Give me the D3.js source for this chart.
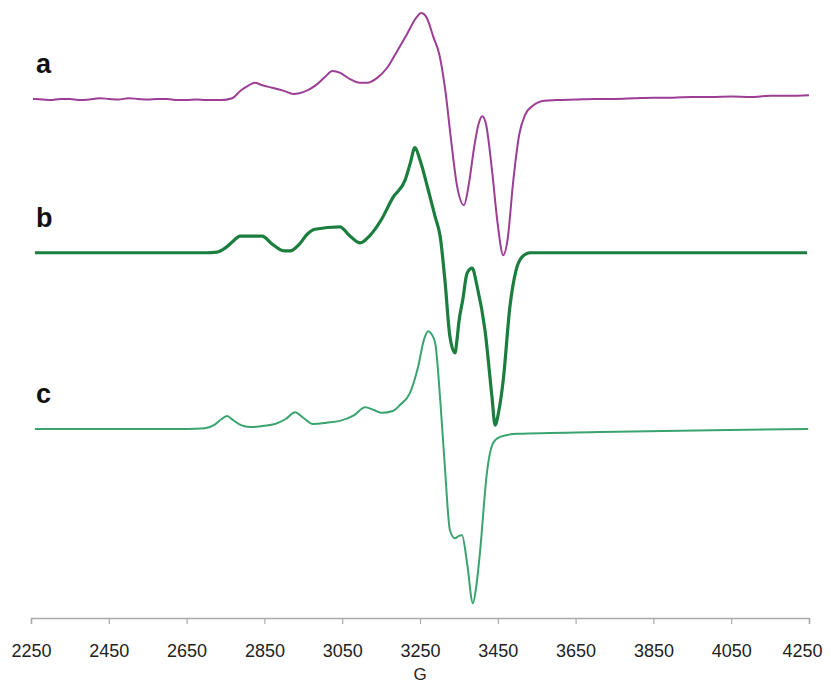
<!DOCTYPE html>
<html>
<head>
<meta charset="utf-8">
<script src="https://cdn.jsdelivr.net/npm/d3@7"></script>
<style>
  body { margin: 0; background: #fff; }
  svg { display: block; }
</style>
</head>
<body>
<div id="chart"></div>
<script>
// field in gauss
const xTicks = [2250, 2450, 2650, 2850, 3050, 3250, 3450, 3650, 3850, 4050, 4250];

// stacked spectra, arbitrary intensity units (offsets included)
const traceA = [
  [2255, 84.0], [2280, 83.9], [2300, 83.8], [2325, 84.0], [2350, 84.0], [2375, 83.8],
  [2400, 83.9], [2425, 84.1], [2450, 84.0], [2475, 83.9], [2500, 84.1], [2525, 84.0],
  [2550, 83.9], [2575, 84.0], [2600, 84.0], [2625, 83.8], [2650, 83.8], [2675, 83.9],
  [2700, 83.8], [2740, 83.8], [2767, 84.1],
  [2790, 85.4], [2810, 86.2], [2825, 86.6], [2845, 86.2], [2870, 85.8], [2900, 85.3],
  [2925, 84.8], [2950, 85.1], [2980, 86.1], [3005, 87.5], [3025, 88.5], [3045, 88.2],
  [3070, 87.2], [3095, 86.6], [3115, 86.6], [3140, 87.4], [3165, 89.0], [3190, 91.6],
  [3215, 94.3], [3240, 97.1], [3253, 97.9], [3265, 97.4], [3285, 93.9], [3300, 91.1],
  [3315, 85.4], [3330, 77.3], [3345, 70.0], [3363, 66.8], [3375, 70.0], [3390, 76.5],
  [3400, 79.8], [3410, 81.2], [3420, 79.8], [3435, 72.5], [3450, 63.6], [3464, 58.7],
  [3475, 61.2], [3490, 70.9], [3505, 78.2], [3520, 81.4], [3540, 82.9], [3570, 83.7],
  [3600, 83.8], [3650, 83.9], [3700, 84.0], [3750, 84.0], [3800, 84.1], [3850, 84.2],
  [3900, 84.2], [3950, 84.3], [4000, 84.3], [4050, 84.4], [4100, 84.3], [4150, 84.5],
  [4200, 84.5], [4250, 84.6]
];

const traceB = [
  [2260, 59.1], [2700, 59.1], [2728, 59.2], [2750, 59.9], [2770, 61.0], [2787, 61.8],
  [2844, 61.8], [2870, 60.5], [2900, 59.4], [2916, 59.4], [2940, 60.5], [2960, 62.1],
  [2980, 62.9], [3044, 63.3], [3070, 61.8], [3096, 60.7], [3120, 61.8], [3150, 64.4],
  [3181, 68.1], [3212, 70.9], [3225, 73.6], [3237, 76.1], [3250, 74.1], [3271, 69.3],
  [3289, 64.9], [3302, 61.7], [3314, 54.7], [3327, 45.5], [3340, 42.9], [3345, 45.0],
  [3350, 47.9], [3360, 51.5], [3371, 55.8], [3384, 56.6], [3397, 53.6], [3417, 46.6],
  [3435, 35.8], [3443, 31.2], [3452, 33.3], [3464, 38.5], [3481, 50.3], [3497, 56.3],
  [3512, 58.4], [3533, 59.1], [4245, 59.1]
];

const traceC = [
  [2260, 30.6], [2650, 30.6], [2697, 30.7], [2720, 31.2], [2740, 32.2], [2754, 32.7],
  [2770, 32.0], [2790, 31.2], [2813, 30.9], [2850, 31.1], [2877, 31.4], [2905, 32.2],
  [2929, 33.3], [2950, 32.4], [2975, 31.4], [3010, 31.6], [3044, 31.9], [3080, 32.8],
  [3109, 34.1], [3130, 33.7], [3152, 33.2], [3180, 33.5], [3199, 34.5], [3224, 36.4],
  [3245, 40.6], [3260, 45.0], [3271, 46.4], [3280, 45.9], [3289, 44.5], [3302, 35.3],
  [3314, 24.4], [3327, 14.2], [3340, 12.9], [3350, 13.3], [3358, 13.4], [3371, 8.9],
  [3386, 2.4], [3395, 5.3], [3404, 10.5], [3422, 23.5], [3438, 28.3], [3456, 29.3],
  [3500, 29.8], [3713, 30.1], [4000, 30.4], [4248, 30.6]
];

const traces = [
  { name: "a", data: traceA, color: "#9c3d96", width: 2, labelY: 84 },
  { name: "b", data: traceB, color: "#1b7e3f", width: 3.2, labelY: 59 },
  { name: "c", data: traceC, color: "#3aa46e", width: 2, labelY: 30.6 }
];

const W = 831, H = 690;
const margin = { top: 0, right: 22, bottom: 72, left: 31 };
const width = W - margin.left - margin.right;
const height = H - margin.top - margin.bottom;

const svg = d3.select("#chart").append("svg")
  .attr("width", W)
  .attr("height", H);

const g = svg.append("g")
  .attr("transform", `translate(${margin.left},${margin.top})`);

const x = d3.scaleLinear().domain([2250, 4250]).range([0, width]);
const y = d3.scaleLinear().domain([0, 100]).range([height, 0]);

const line = d3.line()
  .x(d => x(d[0]))
  .y(d => y(d[1]))
  .curve(d3.curveMonotoneX);

traces.forEach(t => {
  g.append("path")
    .datum(t.data)
    .attr("fill", "none")
    .attr("stroke", t.color)
    .attr("stroke-width", t.width)
    .attr("stroke-linejoin", "round")
    .attr("d", line);

  g.append("text")
    .attr("x", 5)
    .attr("y", y(t.labelY) - 26)
    .attr("font-family", "Liberation Sans, Arial, sans-serif")
    .attr("font-weight", "bold")
    .attr("font-size", 27)
    .attr("fill", "#111")
    .text(t.name);
});

// x axis
const xAxis = g.append("g")
  .attr("transform", `translate(0,${height})`)
  .call(d3.axisBottom(x).tickValues(xTicks).tickSize(6).tickSizeOuter(6).tickPadding(20).tickFormat(d3.format("d")));

xAxis.select(".domain").attr("stroke", "#aaa").attr("stroke-width", 1.5);
xAxis.selectAll(".tick line").attr("stroke", "#aaa").attr("stroke-width", 1.2);
xAxis.selectAll(".tick text")
  .attr("font-family", "Liberation Sans, Arial, sans-serif")
  .attr("font-size", 18)
  .attr("fill", "#222");

// last label would run past the right edge; keep it inside
xAxis.selectAll(".tick text")
  .filter(d => d === 4250)
  .attr("text-anchor", "end")
  .attr("x", 13);

g.append("text")
  .attr("x", width / 2)
  .attr("y", height + 62)
  .attr("text-anchor", "middle")
  .attr("font-family", "Liberation Sans, Arial, sans-serif")
  .attr("font-size", 17)
  .attr("fill", "#222")
  .text("G");
</script>
</body>
</html>
